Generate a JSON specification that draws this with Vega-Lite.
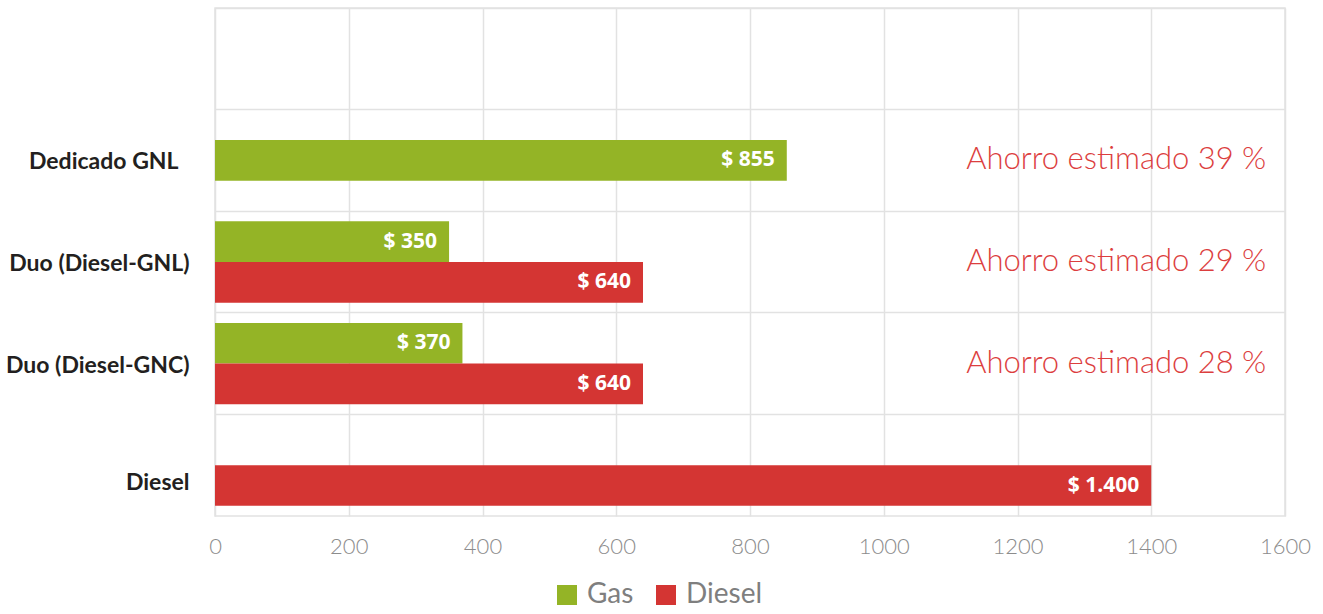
{
  "$schema": "https://vega.github.io/schema/vega-lite/v6.json",
  "width": 1070,
  "height": 508,
  "autosize": "none",
  "padding": {"left": 215, "top": 8, "right": 38, "bottom": 98},
  "background": "white",
  "config": {"view": {"stroke": "#e2e2e2", "strokeWidth": 1.5}},
  "datasets": {
    "costs": [
      {"categoria": "Dedicado GNL", "combustible": "Gas", "costo": 855, "etiqueta": "$ 855"},
      {"categoria": "Duo (Diesel-GNL)", "combustible": "Gas", "costo": 350, "etiqueta": "$ 350"},
      {"categoria": "Duo (Diesel-GNL)", "combustible": "Diesel", "costo": 640, "etiqueta": "$ 640"},
      {"categoria": "Duo (Diesel-GNC)", "combustible": "Gas", "costo": 370, "etiqueta": "$ 370"},
      {"categoria": "Duo (Diesel-GNC)", "combustible": "Diesel", "costo": 640, "etiqueta": "$ 640"},
      {"categoria": "Diesel", "combustible": "Diesel", "costo": 1400, "etiqueta": "$ 1.400"}
    ],
    "ahorro": [
      {"categoria": "Dedicado GNL", "texto": "Ahorro estimado 39 %"},
      {"categoria": "Duo (Diesel-GNL)", "texto": "Ahorro estimado 29 %"},
      {"categoria": "Duo (Diesel-GNC)", "texto": "Ahorro estimado 28 %"}
    ]
  },
  "encoding": {
    "y": {
      "field": "categoria",
      "type": "nominal",
      "sort": null,
      "scale": {
        "domain": [" ", "Dedicado GNL", "Duo (Diesel-GNL)", "Duo (Diesel-GNC)", "Diesel"],
        "paddingInner": 0,
        "paddingOuter": 0
      },
      "axis": {
        "title": null,
        "bandPosition": 0,
        "grid": true,
        "gridColor": "#e2e2e2",
        "gridWidth": 1.5,
        "domain": false,
        "ticks": false,
        "labelOffset": {"condition": {"test": "datum.value === 'Diesel'", "value": 18}, "value": 2},
        "labelPadding": {"condition": {"test": "datum.value === 'Dedicado GNL'", "value": 37}, "value": 26},
        "labelFont": "Lato",
        "labelFontWeight": "bold",
        "labelFontSize": 23,
        "labelLimit": 240,
        "labelColor": "#231f20"
      }
    }
  },
  "layer": [
    {
      "data": {"name": "costs"},
      "transform": [{"filter": "datum.categoria !== 'Dedicado GNL'"}],
      "mark": {"type": "bar"},
      "encoding": {
        "x": {
          "field": "costo",
          "type": "quantitative",
          "scale": {"domain": [0, 1600], "nice": false},
          "axis": {
            "title": null,
            "values": [0, 200, 400, 600, 800, 1000, 1200, 1400, 1600],
            "format": "d",
            "grid": true,
            "gridColor": "#e2e2e2",
            "gridWidth": 1.5,
            "domain": false,
            "ticks": false,
            "labelFont": "Lato",
            "labelFontWeight": 300,
            "labelFontSize": 22,
            "labelColor": "#8c8c8c",
            "labelPadding": 20,
            "labelFlush": false
          }
        },
        "yOffset": {
          "field": "combustible",
          "type": "nominal",
          "scale": {"domain": ["Gas", "Diesel"], "paddingInner": 0, "paddingOuter": 0.25}
        },
        "color": {
          "field": "combustible",
          "type": "nominal",
          "scale": {"domain": ["Gas", "Diesel"], "range": ["#94b426", "#d43533"]},
          "legend": {
            "orient": "none",
            "direction": "horizontal",
            "legendX": 338,
            "legendY": 573,
            "padding": 0,
            "title": null,
            "symbolType": "square",
            "symbolSize": 400,
            "symbolStrokeWidth": 0,
            "labelFont": "Lato",
            "labelFontSize": 28,
            "labelColor": "#7f7f7f",
            "labelOffset": 6,
            "columnPadding": 18
          }
        }
      }
    },
    {
      "data": {"name": "costs"},
      "transform": [{"filter": "datum.categoria === 'Dedicado GNL'"}],
      "mark": {"type": "bar", "height": {"band": 0.4}},
      "encoding": {
        "x": {"field": "costo", "type": "quantitative"},
        "color": {"field": "combustible", "type": "nominal"}
      }
    },
    {
      "data": {"name": "costs"},
      "transform": [{"filter": "datum.categoria !== 'Dedicado GNL'"}],
      "mark": {"type": "text", "align": "right", "baseline": "middle", "dx": -12, "font": "Open Sans", "fontWeight": "bold", "fontSize": 21, "color": "white"},
      "encoding": {
        "x": {"field": "costo", "type": "quantitative"},
        "yOffset": {"field": "combustible", "type": "nominal"},
        "text": {"field": "etiqueta"}
      }
    },
    {
      "data": {"name": "costs"},
      "transform": [{"filter": "datum.categoria === 'Dedicado GNL'"}],
      "mark": {"type": "text", "align": "right", "baseline": "middle", "dx": -12, "font": "Open Sans", "fontWeight": "bold", "fontSize": 21, "color": "white"},
      "encoding": {
        "x": {"field": "costo", "type": "quantitative"},
        "text": {"field": "etiqueta"}
      }
    },
    {
      "data": {"name": "ahorro"},
      "mark": {"type": "text", "align": "right", "baseline": "middle", "font": "Lato", "fontWeight": 300, "fontSize": 31, "color": "#dc3e3e"},
      "encoding": {
        "x": {"datum": 1572, "type": "quantitative"},
        "text": {"field": "texto"}
      }
    }
  ]
}
